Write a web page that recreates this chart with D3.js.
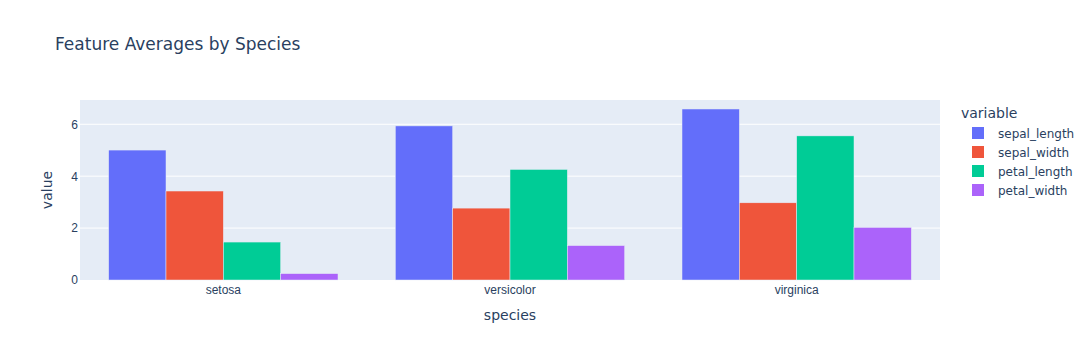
<!DOCTYPE html>
<html><head><meta charset="utf-8">
<script src="https://cdn.jsdelivr.net/npm/d3@7"></script>
<style>body{margin:0;background:#fff}svg{display:block;font-family:"DejaVu Sans",verdana,arial,sans-serif}</style>
</head><body><svg id="c" width="1092" height="360"></svg>
<script>
const species = ["setosa", "versicolor", "virginica"];
const variables = ["sepal_length", "sepal_width", "petal_length", "petal_width"];
const sepalLength = [5.006, 5.936, 6.588];
const sepalWidth = [3.428, 2.770, 2.974];
const petalLength = [1.462, 4.260, 5.552];
const petalWidth = [0.246, 1.326, 2.026];
const yTicks = [0, 2, 4, 6];
const colors = ["#636efa", "#EF553B", "#00cc96", "#ab63fa"];

const seriesValues = [sepalLength, sepalWidth, petalLength, petalWidth];
const data = [];
species.forEach((s, i) => variables.forEach((v, j) => data.push({species: s, variable: v, value: seriesValues[j][i]})));

const svg = d3.select("#c");
const m = {l: 80, r: 152, t: 100, b: 80};
const W = 1092, H = 360;
const ymax = d3.max(data, d => d.value) * 1.0526;
const y = d3.scaleLinear().domain([0, ymax]).range([H - m.b, m.t]);

const cat = d3.scaleBand().domain(species).range([m.l, W - m.r]);
const gw = cat.bandwidth() * 0.8;
const xin = d3.scaleBand().domain(variables).range([0, gw]);

svg.append("rect").attr("x", m.l).attr("y", m.t).attr("width", W - m.r - m.l).attr("height", H - m.b - m.t).attr("fill", "#E5ECF6");

svg.append("g").selectAll("line").data(yTicks.filter(t => t > 0)).join("line")
  .attr("x1", m.l).attr("x2", W - m.r).attr("y1", d => y(d)).attr("y2", d => y(d))
  .attr("stroke", "#fff").attr("stroke-width", 1);

svg.append("g").selectAll("rect").data(data).join("rect")
  .attr("x", d => cat(d.species) + cat.bandwidth() * 0.1 + xin(d.variable))
  .attr("width", xin.bandwidth())
  .attr("y", d => y(d.value))
  .attr("height", d => y(0) - y(d.value))
  .attr("fill", d => colors[variables.indexOf(d.variable)])
  .attr("stroke", "#E5ECF6").attr("stroke-width", 0.5);

const tc = "#2a3f5f";
const yAxis = d3.axisLeft(y).tickValues(yTicks).tickFormat(d3.format("d")).tickSize(0).tickPadding(0);
const ya = svg.append("g").attr("transform", `translate(${m.l - 2},0)`).call(yAxis);
ya.select(".domain").remove();
ya.selectAll("text").attr("fill", tc).style("font-size", "12px").attr("font-family", null);

const xAxis = d3.axisBottom(cat).tickSize(0).tickPadding(0);
const xa = svg.append("g").attr("transform", `translate(0,${H - m.b + 5})`).call(xAxis);
xa.select(".domain").remove();
xa.selectAll("text").attr("fill", tc).style("font-size", "12px").attr("font-family", null);

svg.append("text").attr("x", 55).attr("y", 50).attr("fill", tc).style("font-size", "17px").text("Feature Averages by Species");
svg.append("text").attr("transform", `translate(${(m.l + W - m.r) / 2},320)`).attr("text-anchor", "middle").attr("fill", tc).style("font-size", "14px").text("species");
svg.append("text").attr("transform", `translate(52,${(m.t + H - m.b) / 2}) rotate(-90)`).attr("text-anchor", "middle").attr("fill", tc).style("font-size", "14px").text("value");

const lg = svg.append("g");
lg.append("text").attr("x", 961).attr("y", 118).attr("fill", tc).style("font-size", "14px").text("variable");
const li = lg.selectAll("g.it").data(variables).join("g").attr("class", "it")
  .attr("transform", (d, i) => `translate(0,${133 + i * 19})`);
li.append("rect").attr("x", 972).attr("y", -6).attr("width", 12).attr("height", 12)
  .attr("fill", (d, i) => colors[i]);
li.append("text").attr("x", 998).attr("y", 4.5).attr("fill", tc).style("font-size", "12px").text(d => d);
</script></body></html>
